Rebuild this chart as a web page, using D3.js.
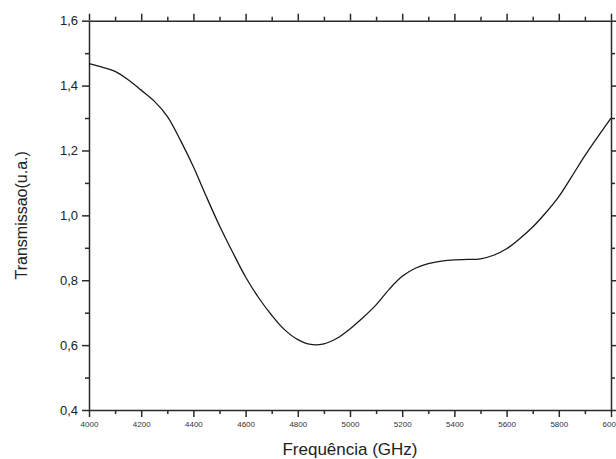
<!DOCTYPE html>
<html>
<head>
<meta charset="utf-8">
<script src="https://cdn.jsdelivr.net/npm/d3@7"></script>
<style>
  body { margin: 0; background: #fff; }
  svg { display: block; font-family: "Liberation Sans", Arial, sans-serif; }
  .axis path, .axis line { stroke: #2a2a2a; stroke-width: 1.5; }
</style>
</head>
<body>
<svg width="616" height="459"></svg>
<script>
// frequency (GHz) and transmission (a.u.)
const freq = [4000, 4050, 4100, 4150, 4200, 4250, 4300, 4350, 4400, 4450,
  4500, 4550, 4600, 4650, 4700, 4750, 4800, 4850, 4900, 4950,
  5000, 5050, 5100, 5150, 5200, 5250, 5300, 5350, 5400, 5450,
  5500, 5550, 5600, 5650, 5700, 5750, 5800, 5850, 5900, 5950, 6000]
const trans = [1.468, 1.457, 1.444, 1.418, 1.386, 1.352, 1.305, 1.232, 1.150, 1.057,
  0.968, 0.887, 0.810, 0.746, 0.692, 0.647, 0.617, 0.602, 0.604, 0.621,
  0.650, 0.685, 0.724, 0.772, 0.812, 0.837, 0.851, 0.859, 0.863, 0.864,
  0.866, 0.877, 0.897, 0.928, 0.964, 1.008, 1.058, 1.120, 1.184, 1.243, 1.300]

const xTicks = [4000, 4200, 4400, 4600, 4800, 5000, 5200, 5400, 5600, 5800, 6000]
const yTicks = [0.4, 0.6, 0.8, 1.0, 1.2, 1.4, 1.6]

const margin = { top: 20.7, right: 5, bottom: 49, left: 89 }
const width = 616
const height = 459

const svg = d3.select("svg")

const x = d3.scaleLinear().domain([4000, 6000]).range([margin.left, width - margin.right])
const y = d3.scaleLinear().domain([0.4, 1.6]).range([height - margin.bottom, margin.top])

const minorX = d3.range(4100, 6000, 200)
const minorY = [0.5, 0.7, 0.9, 1.1, 1.3, 1.5]

const fmt = d => d3.format(".1f")(d).replace(".", ",")

// minor ticks drawn as separate axes with no labels
function minor(axis, vals) {
  return axis.tickValues(vals).tickSize(4).tickFormat("")
}

const bottomAxis = svg.append("g").attr("class", "axis")
  .attr("transform", `translate(0,${y(0.4)})`)
bottomAxis.call(d3.axisBottom(x).tickValues(xTicks).tickSize(7).tickSizeOuter(0).tickPadding(4).tickFormat(d3.format("d")))
bottomAxis.selectAll("text").attr("font-size", 8).attr("fill", "#333")
svg.append("g").attr("class", "axis").attr("transform", `translate(0,${y(0.4)})`)
  .call(minor(d3.axisBottom(x), minorX)).select(".domain").remove()

const topAxis = svg.append("g").attr("class", "axis")
  .attr("transform", `translate(0,${y(1.6)})`)
topAxis.call(d3.axisTop(x).tickValues(xTicks).tickSize(7).tickSizeOuter(0).tickFormat(""))
svg.append("g").attr("class", "axis").attr("transform", `translate(0,${y(1.6)})`)
  .call(minor(d3.axisTop(x), minorX)).select(".domain").remove()

const leftAxis = svg.append("g").attr("class", "axis")
  .attr("transform", `translate(${x(4000)},0)`)
leftAxis.call(d3.axisLeft(y).tickValues(yTicks).tickSize(7).tickSizeOuter(0).tickPadding(4).tickFormat(fmt))
leftAxis.selectAll("text").attr("font-size", 13).attr("fill", "#222")
svg.append("g").attr("class", "axis").attr("transform", `translate(${x(4000)},0)`)
  .call(minor(d3.axisLeft(y), minorY)).select(".domain").remove()

const rightAxis = svg.append("g").attr("class", "axis")
  .attr("transform", `translate(${x(6000)},0)`)
rightAxis.call(d3.axisRight(y).tickValues(yTicks).tickSize(5).tickSizeOuter(0).tickFormat(""))
svg.append("g").attr("class", "axis").attr("transform", `translate(${x(6000)},0)`)
  .call(minor(d3.axisRight(y), minorY)).select(".domain").remove()

const pts = freq.map((f, i) => [f, trans[i]])
const line = d3.line()
  .x(d => x(d[0]))
  .y(d => y(d[1]))
  .curve(d3.curveCatmullRom)

svg.append("path")
  .datum(pts)
  .attr("fill", "none")
  .attr("stroke", "#1a1a1a")
  .attr("stroke-width", 1.3)
  .attr("d", line)

svg.append("text")
  .attr("x", (x(4000) + x(6000)) / 2)
  .attr("y", 455)
  .attr("text-anchor", "middle")
  .attr("font-size", 17)
  .attr("fill", "#222")
  .text("Frequência (GHz)")

svg.append("text")
  .attr("transform", `translate(27,${(y(0.4) + y(1.6)) / 2}) rotate(-90)`)
  .attr("text-anchor", "middle")
  .attr("font-size", 16)
  .attr("fill", "#222")
  .text("Transmissao(u.a.)")
</script>
</body>
</html>
